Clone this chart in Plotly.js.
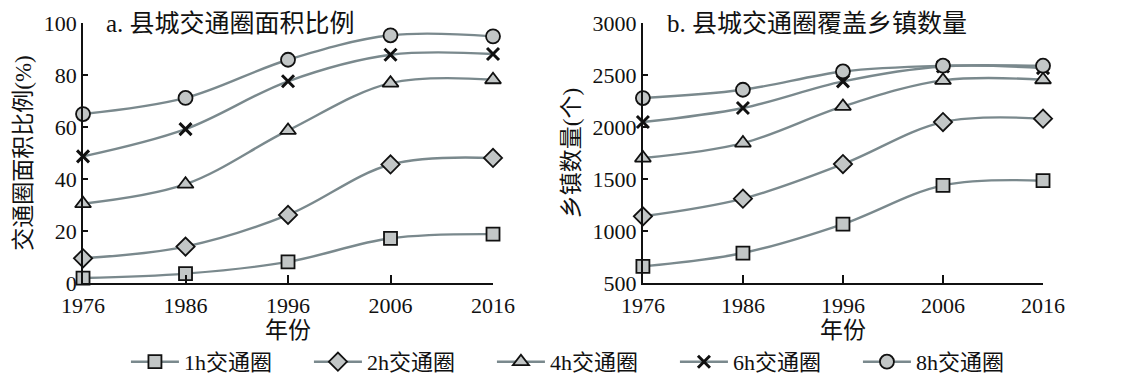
<!DOCTYPE html>
<html><head><meta charset="utf-8">
<script src="https://cdn.plot.ly/plotly-3.0.1.min.js"></script>
<style>html,body{margin:0;padding:0;background:#fff}</style>
</head><body>
<div id="chart" style="width:1122px;height:385px"></div>
<script>
const years = [1976, 1986, 1996, 2006, 2016];
const seriesNames = ['1h交通圈', '2h交通圈', '4h交通圈', '6h交通圈', '8h交通圈'];
// panel a: area share (%)
const area1h = [1.9, 3.6, 8.1, 17.2, 18.8];
const area2h = [9.5, 14.0, 26.2, 45.6, 48.1];
const area4h = [30.5, 38.0, 58.7, 76.9, 78.2];
const area6h = [48.7, 59.2, 77.6, 87.8, 88.1];
const area8h = [65.0, 71.2, 85.9, 95.3, 94.9];
// panel b: number of towns covered
const town1h = [660, 788, 1067, 1439, 1484];
const town2h = [1141, 1311, 1644, 2048, 2080];
const town4h = [1702, 1846, 2199, 2449, 2455];
const town6h = [2048, 2183, 2439, 2583, 2567];
const town8h = [2279, 2359, 2535, 2590, 2590];
const tickYears = ['1976', '1986', '1996', '2006', '2016'];

const FONT = 'Liberation Serif, Noto Sans CJK SC, serif';
const lineColor = '#7a898d';
const fillColor = '#c2c6c6';
const symbols = ['square', 'diamond', 'triangle-up', 'x-thin-open', 'circle'];
const sizes = [13, 14, 14, 12, 14];
const areaData = [area1h, area2h, area4h, area6h, area8h];
const townData = [town1h, town2h, town4h, town6h, town8h];

function mk(i, ys, xa, ya, showLegend) {
  const isX = symbols[i] === 'x-thin-open';
  return {
    x: years, y: ys, xaxis: xa, yaxis: ya, type: 'scatter', mode: 'lines+markers',
    name: seriesNames[i], showlegend: showLegend, cliponaxis: false,
    line: {color: lineColor, width: 2.4, shape: 'spline', smoothing: 1},
    marker: {symbol: symbols[i], size: sizes[i], color: isX ? '#111' : fillColor,
             line: {color: '#111', width: isX ? 3 : 1.8}}
  };
}
const traces = [];
for (let i = 0; i < 5; i++) traces.push(mk(i, areaData[i], 'x', 'y', true));
for (let i = 0; i < 5; i++) traces.push(mk(i, townData[i], 'x2', 'y2', false));

const axisCommon = {
  showgrid: false, zeroline: false, showline: true, linecolor: '#111', linewidth: 2,
  ticks: 'inside', tickcolor: '#111', tickwidth: 2, automargin: false,
  tickfont: {family: FONT, size: 22, color: '#111'}
};
const layout = {
  width: 1122, height: 385, paper_bgcolor: '#fff', plot_bgcolor: '#fff',
  margin: {l: 0, r: 0, t: 0, b: 0},
  font: {family: FONT, color: '#111'},
  xaxis: Object.assign({}, axisCommon, {domain: [0.074, 0.4394], range: [1976, 2016],
    tickvals: years, ticktext: tickYears, ticklen: 8, anchor: 'y', ticklabelstandoff: 2,
    title: {text: '年份', font: {family: FONT, size: 23}, standoff: 2}}),
  yaxis: Object.assign({}, axisCommon, {domain: [0.265, 0.94], range: [0, 100],
    tickvals: [0, 20, 40, 60, 80, 100], ticklen: 5, anchor: 'x',
    title: {text: '交通圈面积比例(%)', font: {family: FONT, size: 23}, standoff: 6}}),
  xaxis2: Object.assign({}, axisCommon, {domain: [0.573, 0.9296], range: [1976, 2016],
    tickvals: years, ticktext: tickYears, ticklen: 8, anchor: 'y2', ticklabelstandoff: 2,
    title: {text: '年份', font: {family: FONT, size: 23}, standoff: 2}}),
  yaxis2: Object.assign({}, axisCommon, {domain: [0.265, 0.94], range: [500, 3000],
    tickvals: [500, 1000, 1500, 2000, 2500, 3000], ticklen: 5, anchor: 'x2',
    title: {text: '乡镇数量(个)', font: {family: FONT, size: 23}, standoff: 6}}),
  legend: {orientation: 'h', x: 0.52, xanchor: 'center', y: 0.06, yanchor: 'middle',
    font: {family: FONT, size: 22, color: '#111'}, itemwidth: 48,
    entrywidth: 120, entrywidthmode: 'pixels', tracegroupgap: 0,
    bgcolor: 'rgba(0,0,0,0)'},
  annotations: [
    {text: 'a. 县城交通圈面积比例', xref: 'paper', yref: 'paper', x: 0.093, y: 0.94,
     xanchor: 'left', yanchor: 'middle', showarrow: false, font: {family: FONT, size: 25, color: '#111'}},
    {text: 'b. 县城交通圈覆盖乡镇数量', xref: 'paper', yref: 'paper', x: 0.593, y: 0.94,
     xanchor: 'left', yanchor: 'middle', showarrow: false, font: {family: FONT, size: 25, color: '#111'}}
  ]
};
Plotly.newPlot('chart', traces, layout, {displayModeBar: false, staticPlot: true});
</script>
</body></html>
